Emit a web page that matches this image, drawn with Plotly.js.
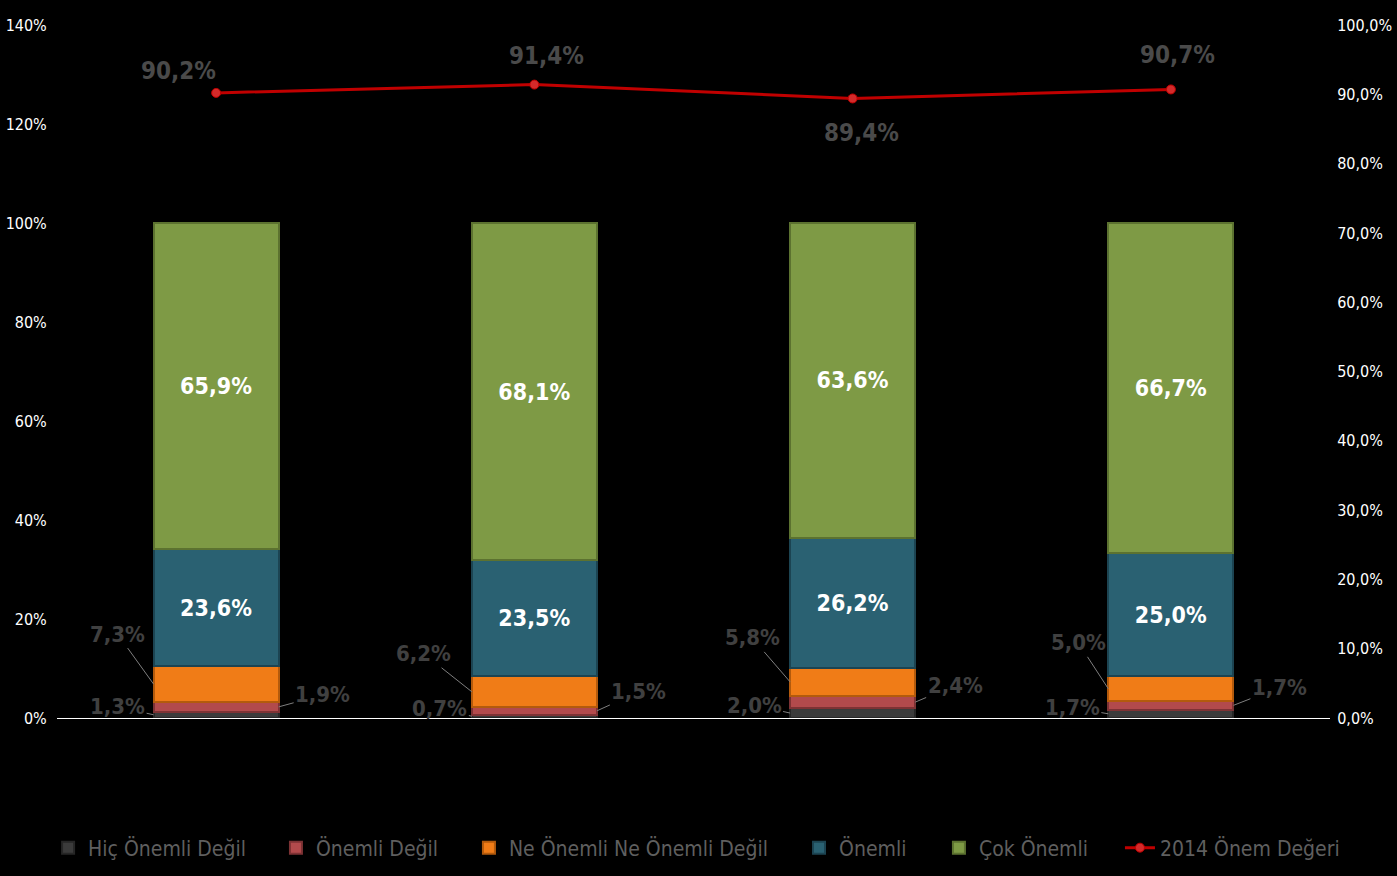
<!DOCTYPE html>
<html><head><meta charset="utf-8">
<script src="https://cdn.plot.ly/plotly-3.0.1.min.js"></script>
<style>html,body{margin:0;padding:0;background:#000;}#chart{width:1397px;height:876px;}</style>
</head><body><div id="chart"></div>
<script>
const categories = [0, 1, 2, 3];
const hicOnemliDegil = [1.3, 0.7, 2.0, 1.7];
const onemliDegil = [1.9, 1.5, 2.4, 1.7];
const neOnemli = [7.3, 6.2, 5.8, 5.0];
const onemli = [23.6, 23.5, 26.2, 25.0];
const cokOnemli = [65.9, 68.1, 63.6, 66.7];
const onemDegeri2014 = [90.2, 91.4, 89.4, 90.7];
const seriesNames = ['Hiç Önemli Değil','Önemli Değil','Ne Önemli Ne Önemli Değil','Önemli','Çok Önemli','2014 Önem Değeri'];

const FONT = '"DejaVu Sans Condensed", "DejaVu Sans", sans-serif';
const fmt = v => v.toFixed(1).replace('.', ',') + '%';
const BW = 0.393;
const legendIds = ['legend', 'legend2', 'legend3', 'legend4', 'legend5', 'legend6'];

function barTrace(idx, vals, color, lineColor, showText) {
  return {
    type: 'bar', name: seriesNames[idx], x: categories, y: vals, legend: legendIds[idx],
    marker: {color: color, line: {color: lineColor, width: 2}},
    text: showText ? vals.map(fmt) : undefined,
    textposition: showText ? 'inside' : 'none',
    insidetextanchor: 'middle',
    textfont: {family: FONT, color: '#ffffff', size: 23, weight: 'bold'},
    hoverinfo: 'skip', width: BW
  };
}

const traces = [
  barTrace(0, hicOnemliDegil, '#3b3b3b', '#262626', false),
  barTrace(1, onemliDegil, '#b24a4c', '#7d3234', false),
  barTrace(2, neOnemli, '#f07c17', '#b35a0c', false),
  barTrace(3, onemli, '#2a6172', '#1c4452', true),
  barTrace(4, cokOnemli, '#7e9a45', '#5c7230', true),
  {
    type: 'scatter', mode: 'lines+markers', name: seriesNames[5], legend: legendIds[5],
    x: categories, y: onemDegeri2014, yaxis: 'y2',
    line: {color: '#c00000', width: 3},
    marker: {symbol: 'circle', size: 9, color: '#d42a2a', line: {color: '#c00000', width: 1}},
    hoverinfo: 'skip'
  }
];

const annotations = [];
const grey = '#404040';
const labFont = {family: FONT, size: 22, color: grey, weight: 'bold'};
const neOff = [[-36, -50], [-48, -38], [-38, -44], [-30, -46]];
const odOff = [[44, -12], [42, -19], [40, -17], [46, -18]];
const hicOff = [[-36, -8], [-32, -8], [-36, -8], [-36, -6]];
categories.forEach((c, i) => {
  const b0 = hicOnemliDegil[i];
  const b1 = b0 + onemliDegil[i];
  const b2 = b1 + neOnemli[i];
  annotations.push({x: c - BW/2, y: b0 / 2, xref: 'x', yref: 'y', text: fmt(hicOnemliDegil[i]),
    showarrow: true, arrowhead: 0, arrowwidth: 1, arrowcolor: '#7f7f7f', ax: hicOff[i][0], ay: hicOff[i][1], font: labFont, standoff: 0});
  annotations.push({x: c + BW/2, y: (b0 + b1) / 2, xref: 'x', yref: 'y', text: fmt(onemliDegil[i]),
    showarrow: true, arrowhead: 0, arrowwidth: 1, arrowcolor: '#7f7f7f', ax: odOff[i][0], ay: odOff[i][1], font: labFont});
  annotations.push({x: c - BW/2, y: (b1 + b2) / 2, xref: 'x', yref: 'y', text: fmt(neOnemli[i]),
    showarrow: true, arrowhead: 0, arrowwidth: 1, arrowcolor: '#7f7f7f', ax: neOff[i][0], ay: neOff[i][1], font: labFont});
});
const lineShift = [[-38, 22], [12, 29], [9, -35], [7, 34]];
categories.forEach((c, i) => {
  annotations.push({x: c, y: onemDegeri2014[i], xref: 'x', yref: 'y2', text: fmt(onemDegeri2014[i]),
    showarrow: false, xshift: lineShift[i][0], yshift: lineShift[i][1],
    font: {family: FONT, size: 24, color: '#4a4a4a', weight: 'bold'}});
});

const legendX = [-0.007, 0.172, 0.3236, 0.5829, 0.6928, 0.835];
function legendCfg(x) {
  return {orientation: 'h', x: x, xanchor: 'left', y: -0.1876, yanchor: 'middle',
    bgcolor: 'rgba(0,0,0,0)', font: {family: FONT, size: 21, color: '#5f5f5f'}, itemwidth: 30};
}

const layout = {
  width: 1397, height: 876,
  paper_bgcolor: '#000000', plot_bgcolor: '#000000',
  margin: {l: 57, r: 67, t: 25, b: 158, autoexpand: false},
  barmode: 'stack', bargap: 0.607,
  separators: ',.',
  font: {family: FONT, color: '#ffffff', size: 16},
  showlegend: true,
  xaxis: {range: [-0.5, 3.5], showticklabels: false, showgrid: false, zeroline: false,
    showline: true, linecolor: '#ffffff', linewidth: 1, ticks: ''},
  yaxis: {range: [0, 140], dtick: 20, ticksuffix: '%', showgrid: false, zeroline: false,
    tickfont: {family: FONT, size: 16, color: '#ffffff'}, ticks: 'outside', ticklen: 6, tickcolor: 'rgba(0,0,0,0)'},
  yaxis2: {range: [0, 100], dtick: 10, tickformat: '.1f', ticksuffix: '%', overlaying: 'y', side: 'right',
    showgrid: false, zeroline: false, tickfont: {family: FONT, size: 16, color: '#ffffff'},
    ticks: 'outside', ticklen: 3, tickcolor: 'rgba(0,0,0,0)'},
  annotations: annotations
};
legendIds.forEach((id, i) => { layout[id] = legendCfg(legendX[i]); });

Plotly.newPlot('chart', traces, layout, {displayModeBar: false, staticPlot: true});
</script></body></html>
